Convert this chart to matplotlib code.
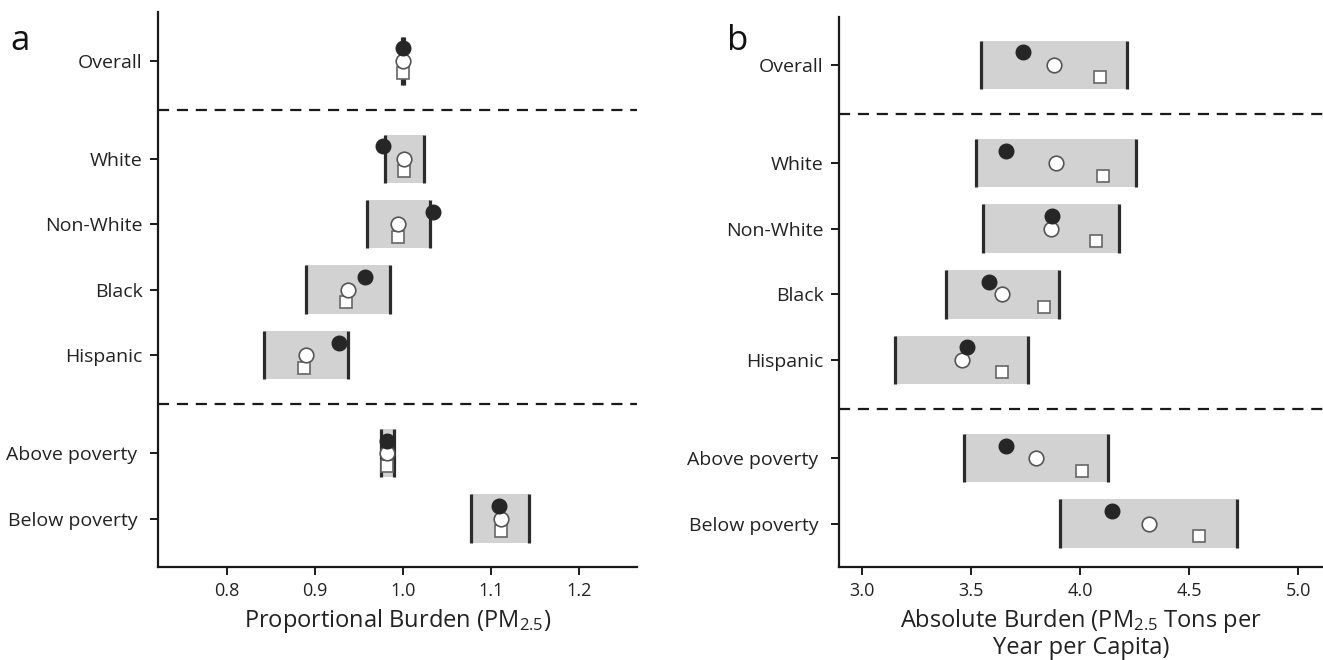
import matplotlib
matplotlib.use("Agg")
import matplotlib.pyplot as plt
from matplotlib.patches import Rectangle

plt.rcParams['font.family'] = ['Open Sans', 'DejaVu Sans']
plt.rcParams['mathtext.fontset'] = 'custom'
plt.rcParams['mathtext.rm'] = 'Open Sans'
plt.rcParams['mathtext.default'] = 'rm'

groups = ["Overall", "White", "Non-White", "Black", "Hispanic", "Above poverty ", "Below poverty "]
ypos = [7, 5.5, 4.5, 3.5, 2.5, 1, 0]
separators = [6.25, 1.75]

# Panel a: proportional burden
a_low = [0.999, 0.980, 0.959, 0.890, 0.842, 0.975, 1.078]
a_high = [1.001, 1.024, 1.031, 0.986, 0.9375, 0.990, 1.143]
a_filled = [1.000, 0.977, 1.034, 0.957, 0.928, 0.982, 1.109]
a_open = [1.000, 1.001, 0.995, 0.9375, 0.890, 0.982, 1.112]
a_square = [1.000, 1.001, 0.995, 0.935, 0.8875, 0.982, 1.112]
a_ticks = [0.8, 0.9, 1.0, 1.1, 1.2]

# Panel b: absolute burden
b_low = [3.545, 3.520, 3.552, 3.384, 3.150, 3.468, 3.907]
b_high = [4.214, 4.257, 4.178, 3.902, 3.762, 4.128, 4.720]
b_filled = [3.736, 3.658, 3.869, 3.580, 3.479, 3.659, 4.147]
b_open = [3.881, 3.889, 3.864, 3.642, 3.456, 3.797, 4.315]
b_square = [4.090, 4.103, 4.072, 3.833, 3.642, 4.006, 4.546]
b_ticks = [3.0, 3.5, 4.0, 4.5, 5.0]

W, H = 1323, 660
fig = plt.figure(figsize=(W / 100, H / 100), dpi=100)

ax_a = fig.add_axes([158 / W, 93 / H, 479 / W, (567 - 11.7) / H])
ax_b = fig.add_axes([839 / W, 93 / H, 484 / W, (567 - 17) / H])

BOX_H = 0.37
OFF = 0.19


def draw(ax, low, high, filled, opn, sq, ticks, xlim, ylim, xlabel):
    for y, lo, hi, f, o, s in zip(ypos, low, high, filled, opn, sq):
        ax.add_patch(Rectangle((lo, y - BOX_H), hi - lo, 2 * BOX_H,
                               facecolor='#d2d2d2', edgecolor='none', zorder=1))
        ax.plot([lo, lo], [y - BOX_H, y + BOX_H], color='#2b2b2b', lw=2.3,
                solid_capstyle='butt', zorder=2)
        ax.plot([hi, hi], [y - BOX_H, y + BOX_H], color='#2b2b2b', lw=2.3,
                solid_capstyle='butt', zorder=2)
        ax.plot([s], [y - OFF], marker='s', ms=9, mfc='white', mec='#666666',
                mew=1.2, zorder=3, ls='none')
        ax.plot([o], [y], marker='o', ms=10.5, mfc='white', mec='#555555',
                mew=1.2, zorder=4, ls='none')
        ax.plot([f], [y + OFF], marker='o', ms=10.5, mfc='#262626', mec='#262626',
                mew=1.0, zorder=5, ls='none')
    for sy in separators:
        ax.axhline(sy, color='#1a1a1a', lw=1.6, ls=(0, (5, 3.5)), zorder=0)
    ax.set_xlim(*xlim)
    ax.set_ylim(*ylim)
    ax.set_yticks(ypos)
    ax.set_yticklabels(groups, fontsize=14, color='#222222')
    ax.set_xticks(ticks)
    ax.set_xticklabels([f"{t:.1f}" for t in ticks], fontsize=13, color='#222222')
    for side in ('top', 'right'):
        ax.spines[side].set_visible(False)
    for side in ('left', 'bottom'):
        ax.spines[side].set_linewidth(1.6)
        ax.spines[side].set_color('#1a1a1a')
    ax.tick_params(axis='both', length=6, width=1.4, color='#1a1a1a')
    ax.tick_params(axis='y', pad=5)
    ax.tick_params(axis='x', pad=5)
    ax.set_xlabel(xlabel, fontsize=17, color='#222222', labelpad=5,
                  linespacing=1.05)


draw(ax_a, a_low, a_high, a_filled, a_open, a_square, a_ticks,
     (0.722, 1.266), (-0.74, 7.75), 'Proportional Burden (PM$_{2.5}$)')
draw(ax_b, b_low, b_high, b_filled, b_open, b_square, b_ticks,
     (2.893, 5.113), (-0.66, 7.73),
     'Absolute Burden (PM$_{2.5}$ Tons per\nYear per Capita)')

fig.text(10 / W, 1 - 50 / H, 'a', fontsize=25, color='#111111')
fig.text(727 / W, 1 - 50 / H, 'b', fontsize=25, color='#111111')

fig.savefig('out.png', dpi=100)
